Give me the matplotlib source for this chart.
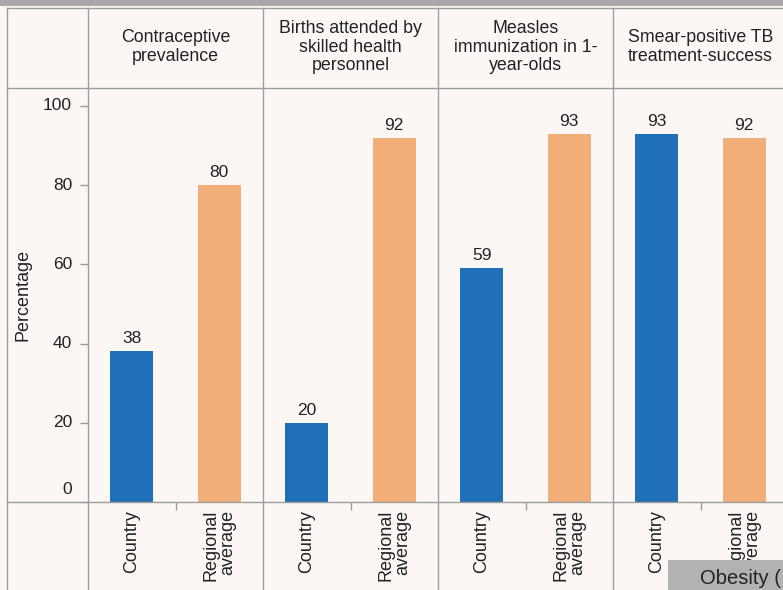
import matplotlib
matplotlib.use("Agg")
import matplotlib.pyplot as plt
from matplotlib.lines import Line2D
from matplotlib.patches import Rectangle

plt.rcParams['font.family'] = ['Liberation Sans', 'DejaVu Sans']

# data
indicators = ["Contraceptive\nprevalence",
              "Births attended by\nskilled health\npersonnel",
              "Measles\nimmunization in 1-\nyear-olds",
              "Smear-positive TB\ntreatment-success"]
groups = ["Country", "Regional\naverage"]
country = [38, 20, 59, 93]
regional = [80, 92, 93, 92]
yticks = [0, 20, 40, 60, 80, 100]

bg = '#fcf7f4'
blue = '#1f70b6'
orange = '#f2ae78'
grid = '#9c9c9c'
txt = '#222222'

W, H = 783, 590
fig = plt.figure(figsize=(W / 100, H / 100), dpi=100, facecolor=bg)


def fx(x):
    return x / W


def fy(y):
    return 1 - y / H


panel_left = 88
panel_w = 175
top_hdr, top_plot, bot_plot = 8, 88, 502

# top grey band
fig.add_artist(Rectangle((0, fy(6)), 1, 6 / H, transform=fig.transFigure,
                         facecolor='#a8a8a8', edgecolor='none', zorder=1))

for i, name in enumerate(indicators):
    x0 = panel_left + i * panel_w
    ax = fig.add_axes([fx(x0), fy(bot_plot), panel_w / W, (bot_plot - top_plot) / H])
    ax.set_facecolor('none')
    for s in ax.spines.values():
        s.set_visible(False)
    vals = [country[i], regional[i]]
    bars = ax.bar([0, 1], vals, width=0.49, color=[blue, orange], zorder=2)
    for b, v in zip(bars, vals):
        ax.annotate(str(v), (b.get_x() + b.get_width() / 2, v), xytext=(0, 5),
                    textcoords='offset pixels', ha='center', va='bottom',
                    fontsize=12.5, color=txt)
    ax.set_xlim(-0.5, 1.5)
    ax.set_ylim(0, 104.5)
    ax.set_xticks([0.5])
    ax.set_xticklabels([''])
    ax.tick_params(axis='x', length=6, color=grid, width=1)
    for k, g in enumerate(groups):
        ax.text(k, -8 / (bot_plot - top_plot), g, rotation=90, ha='center', va='top',
                multialignment='right', fontsize=13, color=txt, linespacing=1.0,
                transform=ax.get_xaxis_transform())
    fig.text(fx(x0 + panel_w / 2), fy(47), name, ha='center', va='center',
             fontsize=12.8, color=txt, linespacing=1.1)
    if i == 0:
        ax.set_yticks(yticks)
        ax.set_yticklabels([])
        ax.tick_params(axis='y', length=6, color=grid, width=1)
        for v in yticks:
            ax.annotate(str(v), (0, v), xycoords=('axes fraction', 'data'),
                        xytext=(-16, 12 if v == 0 else 0), textcoords='offset pixels',
                        ha='right', va='center', fontsize=12.5, color=txt)
    else:
        ax.set_yticks([])

fig.text(fx(23), fy(295), "Percentage", rotation=90, ha='center', va='center',
         fontsize=13, color=txt)

# cell lines
for y in [top_hdr, top_plot, bot_plot]:
    fig.add_artist(Line2D([fx(7), 1], [fy(y), fy(y)], transform=fig.transFigure,
                          color=grid, lw=1, zorder=3))
for x in [7] + [panel_left + i * panel_w for i in range(5)]:
    fig.add_artist(Line2D([fx(x), fx(x)], [fy(top_hdr), 0], transform=fig.transFigure,
                          color=grid, lw=1, zorder=3))

# next section tab
fig.add_artist(Rectangle((fx(668), 0), 1 - fx(668), 30 / H, transform=fig.transFigure,
                         facecolor='#b2b2b2', edgecolor='none', zorder=5))
fig.text(fx(700), fy(578), "Obesity (", ha='left', va='center', fontsize=14.5,
         color=txt, zorder=6)

fig.savefig('out.png', dpi=100, facecolor=bg)
